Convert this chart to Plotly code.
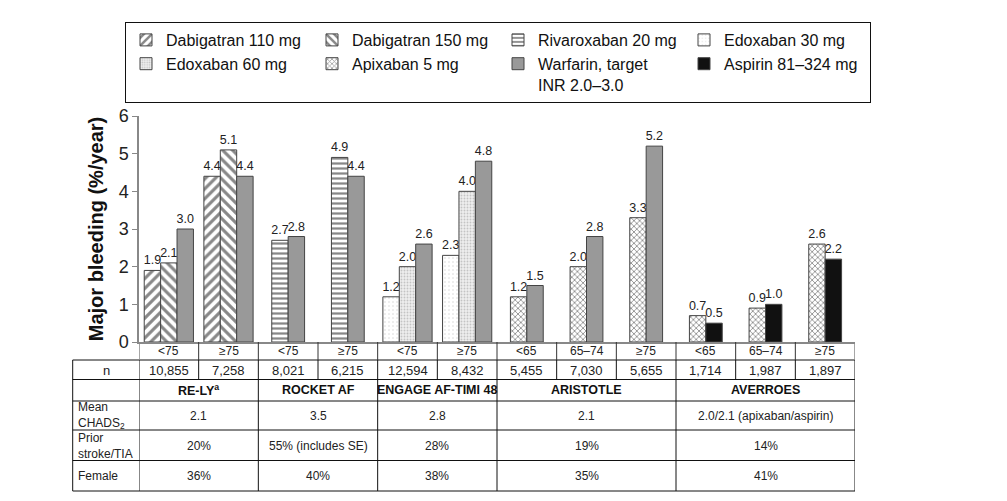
import plotly.graph_objects as go

# ---------------- data ----------------
categories = ["RE-LY <75", "RE-LY >=75", "ROCKET <75", "ROCKET >=75",
              "ENGAGE <75", "ENGAGE >=75", "ARISTOTLE <65", "ARISTOTLE 65-74",
              "ARISTOTLE >=75", "AVERROES <65", "AVERROES 65-74", "AVERROES >=75"]
age_labels = ["<75", "≥75", "<75", "≥75", "<75", "≥75", "<65", "65–74", "≥75",
              "<65", "65–74", "≥75"]
n_values = ["10,855", "7,258", "8,021", "6,215", "12,594", "8,432", "5,455",
            "7,030", "5,655", "1,714", "1,987", "1,897"]
trials = ["RE-LY<sup>a</sup>", "ROCKET AF", "ENGAGE AF-TIMI 48", "ARISTOTLE", "AVERROES"]
trial_sizes = [2, 2, 2, 3, 3]
mean_chads2 = ["2.1", "3.5", "2.8", "2.1", "2.0/2.1 (apixaban/aspirin)"]
prior_stroke = ["20%", "55% (includes SE)", "28%", "19%", "14%"]
female = ["36%", "40%", "38%", "35%", "41%"]

N = None
dabigatran_110 = [1.9, 4.4, N, N, N, N, N, N, N, N, N, N]
dabigatran_150 = [2.1, 5.1, N, N, N, N, N, N, N, N, N, N]
rivaroxaban_20 = [N, N, 2.7, 4.9, N, N, N, N, N, N, N, N]
edoxaban_30 = [N, N, N, N, 1.2, 2.3, N, N, N, N, N, N]
edoxaban_60 = [N, N, N, N, 2.0, 4.0, N, N, N, N, N, N]
apixaban_5 = [N, N, N, N, N, N, 1.2, 2.0, 3.3, 0.7, 0.9, 2.6]
warfarin = [3.0, 4.4, 2.8, 4.4, 2.6, 4.8, 1.5, 2.8, 5.2, N, N, N]
aspirin = [N, N, N, N, N, N, N, N, N, 0.5, 1.0, 2.2]

series = [
    ("Dabigatran 110 mg", dabigatran_110, dict(color="white", pattern=dict(shape="/", fgcolor="#111", bgcolor="white", size=7, solidity=0.45))),
    ("Dabigatran 150 mg", dabigatran_150, dict(color="white", pattern=dict(shape="\\", fgcolor="#111", bgcolor="white", size=7, solidity=0.45))),
    ("Rivaroxaban 20 mg", rivaroxaban_20, dict(color="white", pattern=dict(shape="-", fgcolor="#111", bgcolor="white", size=5, solidity=0.45))),
    ("Edoxaban 30 mg", edoxaban_30, dict(color="white", pattern=dict(shape=".", fgcolor="#aaa", bgcolor="white", size=4, solidity=0.12))),
    ("Edoxaban 60 mg", edoxaban_60, dict(color="#e6e6e6", pattern=dict(shape=".", fgcolor="#999", bgcolor="#eeeeee", size=3, solidity=0.3))),
    ("Apixaban 5 mg", apixaban_5, dict(color="white", pattern=dict(shape="x", fgcolor="#222", bgcolor="white", size=4, solidity=0.4))),
    ("Warfarin, target<br>INR 2.0–3.0", warfarin, dict(color="#999999")),
    ("Aspirin 81–324 mg", aspirin, dict(color="#111111")),
]

FONT = "Liberation Sans, Arial, sans-serif"
W, H = 1007, 501
OFF = 8  # default page body margin: figure is drawn 8 px right/down
PLOT_L, PLOT_R, PLOT_T, PLOT_B = 139, 855, 116, 342   # target screen pixels
ML = PLOT_L - OFF
MR = W - (PLOT_R - OFF)
MT = PLOT_T - OFF
MB = H - (PLOT_B - OFF)
PH = H - MT - MB
PW = W - ML - MR
BAR_W = 0.275

fig = go.Figure()

counts = [sum(1 for _, vals, _ in series if vals[i] is not None) for i in range(len(categories))]
slot_used = [0] * len(categories)

for name, vals, mk in series:
    xs, ys, offs, txt = [], [], [], []
    for i, v in enumerate(vals):
        if v is None:
            continue
        k = slot_used[i]
        slot_used[i] += 1
        xs.append(categories[i])
        ys.append(v)
        offs.append(-counts[i] * BAR_W / 2 + k * BAR_W)
        txt.append(f"{v:.1f}")
    marker = dict(mk)
    marker["line"] = dict(color="#444", width=1)
    fig.add_trace(go.Bar(
        name=name, x=xs, y=ys, offset=offs, width=[BAR_W] * len(xs),
        marker=marker, text=txt, textposition="outside", constraintext="none",
        textfont=dict(size=12.5, color="#222", family=FONT), cliponaxis=False,
    ))


def py(p):
    """screen pixel y -> paper y"""
    return (H - MB - (p - OFF)) / PH


def px(p):
    """screen pixel x -> paper x"""
    return (p - OFF - ML) / PW


shapes = []
annotations = []
LBL_X = px(72.7)
ROW_Y = [360, 379.5, 401, 430, 460.5, 491]
ncat = len(categories)

for yy in ROW_Y:
    shapes.append(dict(type="line", xref="paper", yref="paper", x0=LBL_X, x1=1,
                       y0=py(yy), y1=py(yy), line=dict(color="#111", width=1)))
shapes.append(dict(type="line", xref="paper", yref="paper", x0=LBL_X, x1=LBL_X,
                   y0=py(360), y1=py(491), line=dict(color="#111", width=1)))
bounds = [0]
for s in trial_sizes:
    bounds.append(bounds[-1] + s)
for i in range(ncat + 1):
    xb = i - 0.5
    full = i in bounds
    edge = (i == 0 or i == ncat)
    shapes.append(dict(type="line", xref="x", yref="paper", x0=xb, x1=xb,
                       y0=py(342), y1=py(360),
                       line=dict(color="#888" if edge else "#333", width=1.5 if edge else 1)))
    shapes.append(dict(type="line", xref="x", yref="paper", x0=xb, x1=xb,
                       y0=py(360), y1=py(491 if full else 379.5),
                       line=dict(color="#111", width=1)))


def ann(x, y, text, xref="x", size=12, xanchor="center", align="center", color="#222"):
    annotations.append(dict(x=x, y=y, xref=xref, yref="paper", text=text, showarrow=False,
                            xanchor=xanchor, yanchor="middle", align=align,
                            font=dict(family=FONT, size=size, color=color)))


for i in range(ncat):
    ann(i, py(351), age_labels[i])
    ann(i, py(370), n_values[i], size=13)
ann(px(106), py(370), "n", xref="paper", size=13)

for t, name in enumerate(trials):
    cx = (bounds[t] + bounds[t + 1] - 1) / 2
    ann(cx, py(390), f"<b>{name}</b>", size=12.5, color="#111")
    for vals, yy in ((mean_chads2, 415.5), (prior_stroke, 445.5), (female, 476)):
        ann(cx, py(yy), vals[t])

for text, yy in (("Mean<br>CHADS<sub>2</sub>", 415.5), ("Prior<br>stroke/TIA", 445.5), ("Female", 476)):
    ann(px(76), py(yy), text, xref="paper", xanchor="left", align="left")

fig.update_layout(
    width=W, height=H,
    margin=dict(l=ML, r=MR, t=MT, b=MB, pad=0, autoexpand=False),
    paper_bgcolor="white", plot_bgcolor="white",
    barmode="overlay",
    font=dict(family=FONT, color="#222"),
    shapes=shapes, annotations=annotations,
    legend=dict(
        orientation="h", xref="paper", yref="paper",
        x=px(125), y=py(22), xanchor="left", yanchor="top",
        entrywidth=141, entrywidthmode="pixels", traceorder="normal",
        bordercolor="#111", borderwidth=1, bgcolor="white",
        font=dict(family=FONT, size=16, color="#111"), valign="top",
        itemwidth=30,
    ),
    xaxis=dict(type="category", categoryorder="array", categoryarray=categories,
               range=[-0.5, ncat - 0.5], showticklabels=False, ticks="",
               showline=True, linecolor="#888", linewidth=1.5, showgrid=False,
               zeroline=False, fixedrange=True),
    yaxis=dict(range=[0, 6], dtick=1, showline=True, linecolor="#888", linewidth=1.5,
               ticks="outside", ticklen=5, tickcolor="#888", showgrid=False, zeroline=False,
               tickfont=dict(family=FONT, size=18, color="#222"),
               title=dict(text="<b>Major bleeding (%/year)</b>", standoff=10,
                          font=dict(family=FONT, size=20, color="#111"))),
)

fig.write_html("out.html")
